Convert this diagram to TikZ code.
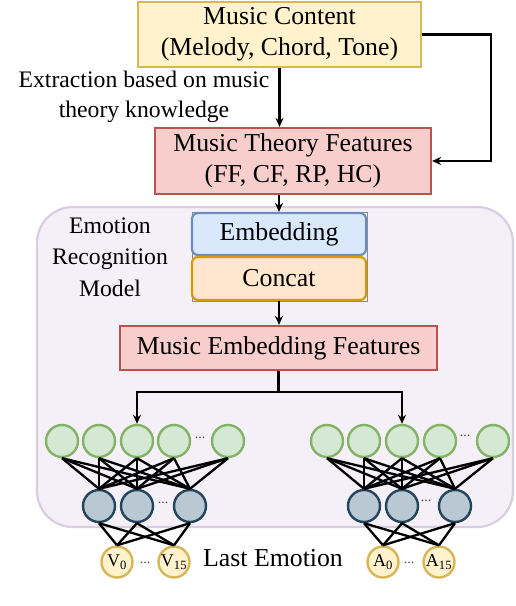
\documentclass[tikz,border=0pt]{standalone}
\usepackage{fontspec}
\setmainfont{Liberation Serif}
\usetikzlibrary{arrows.meta}
\definecolor{ylwF}{HTML}{FFF2CC}\definecolor{ylwD}{HTML}{D6B656}
\definecolor{redF}{HTML}{F8CECC}\definecolor{redD}{HTML}{B85450}
\definecolor{bluF}{HTML}{DAE8FC}\definecolor{bluD}{HTML}{6C8EBF}
\definecolor{orgF}{HTML}{FFE6CC}\definecolor{orgD}{HTML}{D79B00}
\definecolor{grnF}{HTML}{D5E8D4}\definecolor{grnD}{HTML}{82B366}
\definecolor{gryF}{HTML}{BAC8D3}\definecolor{gryD}{HTML}{23445D}
\definecolor{purF}{HTML}{F5F0F7}\definecolor{purD}{HTML}{D8CEE2}
\begin{document}
\begin{tikzpicture}[x=1bp,y=-1bp,
  bigtxt/.style={font=\fontsize{25.8bp}{31bp}\selectfont, align=center},
  smalltxt/.style={font=\fontsize{23.7bp}{30bp}\selectfont, align=center},
  boxbase/.style={bigtxt, inner sep=0, line width=2.2bp},
  ybox/.style={boxbase, fill=ylwF, draw=ylwD},
  rbox/.style={boxbase, fill=redF, draw=redD},
  bbox/.style={boxbase, fill=bluF, draw=bluD, rounded corners=6bp},
  obox/.style={boxbase, fill=orgF, draw=orgD, rounded corners=6bp},
  neuron/.style={circle, minimum size=32bp, inner sep=0, line width=2.4bp},
  gn/.style={neuron, fill=grnF, draw=grnD},
  bn/.style={neuron, fill=gryF, draw=gryD},
  yn/.style={circle, minimum size=31bp, inner sep=0, line width=2.4bp, fill=ylwF, draw=ylwD, font=\fontsize{18bp}{18bp}\selectfont},
  arr/.style={line width=2.3bp, -{Stealth[length=9bp,width=8bp]}},
  conn/.style={line width=2.3bp},
  dotsty/.style={font=\fontsize{14bp}{14bp}\selectfont, text=black!70, inner sep=0}
]
\useasboundingbox (0,0) rectangle (516,606);

% group background
\node[fill=purF, draw=purD, line width=2.2bp, rounded corners=36bp, minimum width=476bp, minimum height=320bp, inner sep=0] (grp) at (275,367) {};

\node[ybox, minimum width=283bp, minimum height=65bp] (mc) at (279.5,34.5) {Music Content\\(Melody, Chord, Tone)};
\node[rbox, minimum width=276bp, minimum height=66bp] (mt) at (293,161) {Music Theory Features\\(FF, CF, RP, HC)};
\node[smalltxt, inner sep=0] (ext) at (144,97) {Extraction based on music\\theory knowledge};

\node[draw=black!45, line width=1bp, minimum width=175bp, minimum height=89bp, inner sep=0] (grpbox) at (279.5,256.5) {};
\node[bbox, minimum width=174bp, minimum height=42bp] (emb) at (279,234) {Embedding};
\node[obox, minimum width=174bp, minimum height=43bp] (cc) at (279,278.5) {Concat};
\node[smalltxt, inner sep=0, font=\fontsize{23.7bp}{31.5bp}\selectfont] (erm) at (110,257) {Emotion\\Recognition\\Model};
\node[rbox, minimum width=317bp, minimum height=44bp] (mef) at (278.5,348) {Music Embedding Features};

% neurons left
\node[gn] (gL1) at (62,441) {};
\node[gn] (gL2) at (99,441) {};
\node[gn] (gL3) at (137,441) {};
\node[gn] (gL4) at (174,441) {};
\node[gn] (gL5) at (228,441) {};
\node[dotsty] (dgL) at (200,438) {...};
\node[bn] (bL1) at (99,506) {};
\node[bn] (bL2) at (137,506) {};
\node[bn] (bL3) at (190,506) {};
\node[dotsty] (dbL) at (163,503) {...};
\node[yn] (yL1) at (117,562) {V\textsubscript{0}};
\node[yn] (yL2) at (174,562) {V\textsubscript{15}};
\node[dotsty] (dyL) at (145,563) {...};

% neurons right
\node[gn] (gR1) at (327,441) {};
\node[gn] (gR2) at (364,441) {};
\node[gn] (gR3) at (402,441) {};
\node[gn] (gR4) at (440,441) {};
\node[gn] (gR5) at (493,441) {};
\node[dotsty] (dgR) at (465,436) {...};
\node[bn] (bR1) at (364,506) {};
\node[bn] (bR2) at (402,506) {};
\node[bn] (bR3) at (455,506) {};
\node[dotsty] (dbR) at (426,501) {...};
\node[yn] (yR1) at (383,562) {A\textsubscript{0}};
\node[yn] (yR2) at (439,562) {A\textsubscript{15}};
\node[dotsty] (dyR) at (409,563) {...};

\node[bigtxt, inner sep=0, anchor=base] (last) at (273,566) {Last Emotion};

% connectors
\draw[arr] (mc.south) -- (mc.south |- mt.north);
\draw[arr] (mc.east) -- ++(69,0) |- (mt.east);
\draw[arr] (emb.north |- mt.south) -- (emb.north);
\draw[arr] (cc.south) -- (cc.south |- mef.north);
\draw[arr] (mef.south) -- ++(0,21) -| (gL3.north);
\draw[arr] (mef.south) -- ++(0,21) -| (gR3.north);

\foreach \s in {L,R}{
  \foreach \i in {1,...,5}{
    \foreach \j in {1,2,3}{
      \draw[conn] (g\s\i.south) -- (b\s\j.north);
    }
  }
  \foreach \j in {1,2,3}{
    \foreach \k in {1,2}{
      \draw[conn] (b\s\j.south) -- (y\s\k.north);
    }
  }
}
\end{tikzpicture}
\end{document}
